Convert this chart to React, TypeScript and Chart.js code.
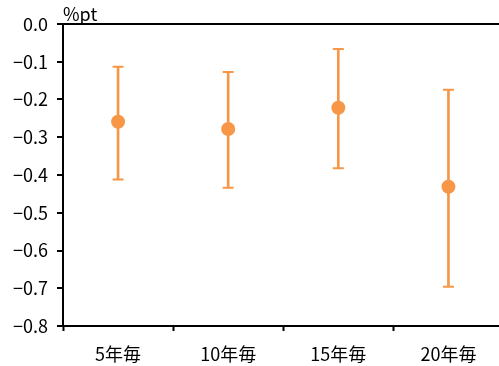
import React, { useEffect, useRef } from "react";
import { Chart, registerables } from "chart.js";

Chart.register(...registerables);

const categories = ["5年毎", "10年毎", "15年毎", "20年毎"];
const pointValues = [-0.259, -0.278, -0.222, -0.431];
const upperValues = [-0.113, -0.127, -0.066, -0.174];
const lowerValues = [-0.412, -0.434, -0.382, -0.696];
const unitLabel = "%pt";

const ORANGE = "#F79646";
const FONT = "'Noto Sans CJK JP', 'Noto Sans', sans-serif";

export default function App() {
  const ref = useRef<HTMLCanvasElement | null>(null);

  useEffect(() => {
    document.body.style.margin = "0";
    document.body.style.overflow = "hidden";
    if (!ref.current) return;

    const unitPlugin = {
      id: "unitLabel",
      afterDraw(chart: any) {
        const { ctx, chartArea } = chart;
        ctx.save();
        ctx.font = `18px ${FONT}`;
        ctx.fillStyle = "#000";
        ctx.textAlign = "left";
        ctx.textBaseline = "bottom";
        ctx.fillText(unitLabel, chartArea.left, chartArea.top - 1);
        ctx.restore();
      },
    };

    const chart = new Chart(ref.current, {
      type: "bar",
      data: {
        labels: categories,
        datasets: [
          {
            type: "line",
            data: pointValues,
            showLine: false,
            pointRadius: 7,
            pointHoverRadius: 7,
            pointBackgroundColor: ORANGE,
            pointBorderColor: ORANGE,
            pointBorderWidth: 0,
            order: 0,
          } as any,
          {
            type: "line",
            data: upperValues,
            showLine: false,
            pointStyle: "line",
            pointRadius: 5.5,
            pointBorderColor: ORANGE,
            pointBorderWidth: 2,
            order: 1,
          } as any,
          {
            type: "line",
            data: lowerValues,
            showLine: false,
            pointStyle: "line",
            pointRadius: 5.5,
            pointBorderColor: ORANGE,
            pointBorderWidth: 2,
            order: 1,
          } as any,
          {
            type: "bar",
            data: lowerValues.map((l, i) => [l, upperValues[i]]),
            backgroundColor: ORANGE,
            borderWidth: 0,
            barThickness: 2,
            order: 2,
            grouped: false,
          } as any,
        ],
      },
      options: {
        animation: false,
        responsive: false,
        maintainAspectRatio: false,
        devicePixelRatio: 1,
        layout: { padding: { left: 0, right: 0, top: 24, bottom: 0 } },
        plugins: {
          legend: { display: false },
          tooltip: { enabled: false },
        },
        scales: {
          x: {
            offset: true,
            grid: {
              offset: true,
              drawOnChartArea: false,
              tickLength: 5,
              tickColor: "#000",
              tickWidth: 2,
            },
            border: { color: "#000", width: 2 },
            ticks: {
              color: "#000",
              padding: 12,
              font: { family: FONT, size: 18 },
            },
            afterFit: (scale: any) => {
              scale.height = 40;
            },
          },
          y: {
            min: -0.8,
            max: 0,
            ticks: {
              stepSize: 0.1,
              color: "#000",
              padding: 9,
              font: { family: FONT, size: 18 },
              callback: (v: any) => Number(v).toFixed(1).replace("-", "\u2212"),
            },
            grid: {
              tickLength: 6,
              tickColor: "#000",
              tickWidth: 2,
              lineWidth: 2,
              color: (ctx: any) =>
                ctx.tick && Math.abs(ctx.tick.value) < 1e-9 ? "#000" : "rgba(0,0,0,0)",
            },
            border: { color: "#000", width: 2 },
            afterFit: (scale: any) => {
              scale.width = 63;
            },
          },
        },
      },
      plugins: [unitPlugin],
    });

    return () => chart.destroy();
  }, []);

  return (
    <div style={{ position: "relative", width: 511, height: 366 }}>
      <canvas ref={ref} width={511} height={366} style={{ display: "block" }} />
    </div>
  );
}
